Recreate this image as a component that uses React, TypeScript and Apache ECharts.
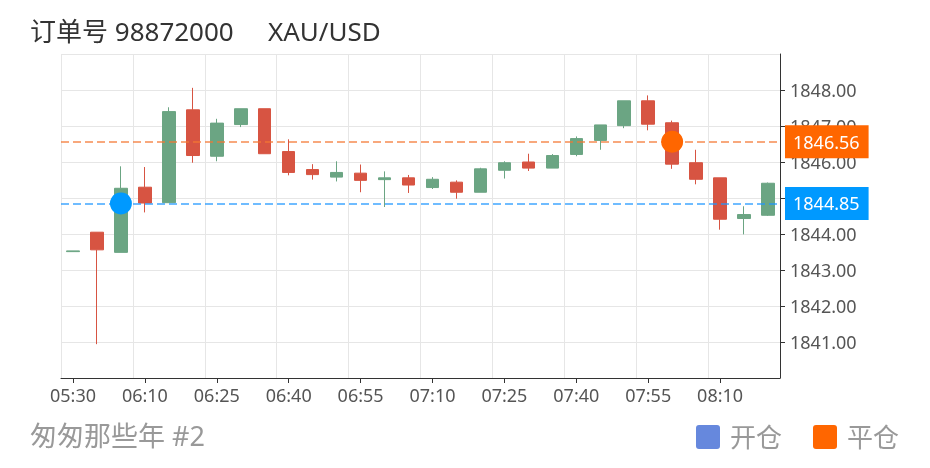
import React, { useEffect, useRef } from "react";
import * as echarts from "echarts";

const times = [
  "05:30", "06:00", "06:05", "06:10", "06:15", "06:20", "06:25", "06:30", "06:35", "06:40",
  "06:45", "06:50", "06:55", "07:00", "07:05", "07:10", "07:15", "07:20", "07:25", "07:30",
  "07:35", "07:40", "07:45", "07:50", "07:55", "08:00", "08:05", "08:10", "08:15", "08:20",
];
const opens = [
  1843.51, 1844.05, 1843.49, 1845.30, 1844.87, 1847.45, 1846.16, 1847.04, 1847.48, 1846.29,
  1845.79, 1845.58, 1845.69, 1845.51, 1845.56, 1845.29, 1845.44, 1845.16, 1845.77, 1846.00,
  1845.83, 1846.21, 1846.60, 1847.01, 1847.70, 1847.09, 1845.98, 1845.56, 1844.43, 1844.52,
];
const closes = [
  1843.53, 1843.56, 1845.27, 1844.86, 1847.40, 1846.18, 1847.08, 1847.48, 1846.23, 1845.71,
  1845.65, 1845.71, 1845.49, 1845.56, 1845.36, 1845.52, 1845.16, 1845.81, 1845.98, 1845.83,
  1846.18, 1846.65, 1847.03, 1847.70, 1847.05, 1845.94, 1845.52, 1844.41, 1844.54, 1845.41,
];
const lows = [
  1843.51, 1840.94, 1843.49, 1844.60, 1844.87, 1845.98, 1846.02, 1846.97, 1846.23, 1845.63,
  1845.51, 1845.46, 1845.16, 1844.75, 1845.14, 1845.25, 1844.98, 1845.16, 1845.54, 1845.75,
  1845.83, 1846.16, 1846.34, 1846.94, 1846.88, 1845.81, 1845.38, 1844.12, 1843.99, 1844.50,
];
const highs = [
  1843.53, 1844.05, 1845.88, 1845.86, 1847.52, 1848.06, 1847.20, 1847.48, 1847.48, 1846.63,
  1845.94, 1846.02, 1845.93, 1845.74, 1845.64, 1845.58, 1845.49, 1845.84, 1846.02, 1846.23,
  1846.22, 1846.71, 1847.03, 1847.70, 1847.85, 1847.15, 1846.34, 1845.56, 1844.77, 1845.43,
];

const openTrade = { time: "06:05", price: 1844.85 };
const closeTrade = { time: "08:00", price: 1846.56 };

const titleText = "订单号 98872000";
const symbolText = "XAU/USD";
const footerText = "匆匆那些年 #2";
const legendNames = ["开仓", "平仓"];

const FONT = '"Noto Sans", "Noto Sans CJK SC", sans-serif';
const ROUND_SQUARE =
  "path://M3,0 H21 A3,3 0 0 1 24,3 V21 A3,3 0 0 1 21,24 H3 A3,3 0 0 1 0,21 V3 A3,3 0 0 1 3,0 Z";

export default function App() {
  const ref = useRef<HTMLDivElement>(null);

  useEffect(() => {
    if (!ref.current) return;
    const chart = echarts.init(ref.current, undefined, { renderer: "svg" });
    const candleData = times.map((_, i) => [opens[i], closes[i], lows[i], highs[i]]);
    const yMin = Math.floor(Math.min(...lows));
    const yMax = Math.ceil(Math.max(...highs));

    const markLineFor = (lineColor: string, boxColor: string, price: number) => ({
      symbol: "none",
      silent: true,
      animation: false,
      lineStyle: { color: lineColor, opacity: 1, type: [8, 4], width: 1.5 },
      label: {
        show: true,
        position: "end",
        distance: 5,
        formatter: () => price.toFixed(2),
        backgroundColor: boxColor,
        color: "#fff",
        fontSize: 18,
        fontFamily: FONT,
        padding: [7, 9, 8, 8],
      },
      emphasis: { disabled: true },
      data: [{ yAxis: price }],
    });

    chart.setOption({
      animation: false,
      textStyle: { fontFamily: FONT },
      title: [
        {
          text: titleText,
          left: 30,
          top: 18,
          padding: 0,
          textStyle: { fontSize: 26, fontWeight: "normal", color: "#333", fontFamily: FONT },
        },
        {
          text: symbolText,
          left: 268,
          top: 18,
          padding: 0,
          textStyle: { fontSize: 26, fontWeight: "normal", color: "#333", fontFamily: FONT },
        },
        {
          text: footerText,
          left: 30,
          top: 422,
          padding: 0,
          textStyle: { fontSize: 27, fontWeight: "normal", color: "#999", fontFamily: FONT },
        },
      ],
      legend: {
        data: legendNames.map((n) => ({ name: n, icon: ROUND_SQUARE })),
        right: 31,
        top: 424,
        padding: 0,
        itemWidth: 24,
        itemHeight: 24,
        itemGap: 31,
        textStyle: { fontSize: 26, color: "#999", fontFamily: FONT, padding: [0, 0, 0, 5] },
      },
      grid: { left: 61, right: 150, top: 54, bottom: 90, containLabel: false },
      xAxis: {
        type: "category",
        data: times,
        boundaryGap: true,
        axisLine: { show: true, lineStyle: { color: "#333", width: 1 } },
        axisTick: { show: true, alignWithLabel: true, interval: 2, length: 5, lineStyle: { color: "#333" } },
        axisLabel: { interval: 2, fontSize: 18, color: "#555", margin: 8, fontFamily: FONT },
        splitLine: { show: true, interval: 2, lineStyle: { color: "#e6e6e6", width: 1 } },
      },
      yAxis: {
        type: "value",
        position: "right",
        scale: true,
        min: yMin,
        max: yMax,
        interval: 1,
        axisLine: { show: true, lineStyle: { color: "#333", width: 1 } },
        axisTick: { show: true, length: 5, lineStyle: { color: "#333" } },
        axisLabel: {
          fontSize: 18,
          color: "#555",
          margin: 10,
          fontFamily: FONT,
          showMinLabel: false,
          showMaxLabel: false,
          formatter: (v: number) => v.toFixed(2),
        },
        splitLine: { show: true, lineStyle: { color: "#e6e6e6", width: 1 } },
      },
      series: [
        {
          type: "candlestick",
          name: "K",
          data: candleData,
          barWidth: 13,
          itemStyle: {
            color: "#6ba583",
            color0: "#d75442",
            borderColor: "#6ba583",
            borderColor0: "#d75442",
            borderWidth: 1,
          },
          emphasis: { disabled: true },
        },
        {
          type: "scatter",
          name: legendNames[0],
          symbol: "circle",
          symbolSize: 22,
          itemStyle: { color: "#6688dd", opacity: 1 },
          data: [{ value: [openTrade.time, openTrade.price], itemStyle: { color: "#0099ff", opacity: 1 } }],
          markLine: markLineFor("rgba(30,150,255,0.85)", "#0099ff", openTrade.price),
          z: 5,
        },
        {
          type: "scatter",
          name: legendNames[1],
          symbol: "circle",
          symbolSize: 22,
          itemStyle: { color: "#ff6600", opacity: 1 },
          data: [{ value: [closeTrade.time, closeTrade.price], itemStyle: { color: "#ff6600", opacity: 1 } }],
          markLine: markLineFor("rgba(245,120,50,0.85)", "#ff6600", closeTrade.price),
          z: 5,
        },
      ],
    });

    return () => chart.dispose();
  }, []);

  return (
    <div
      ref={ref}
      style={{ position: "fixed", left: 0, top: 0, width: 930, height: 468 }}
    />
  );
}
